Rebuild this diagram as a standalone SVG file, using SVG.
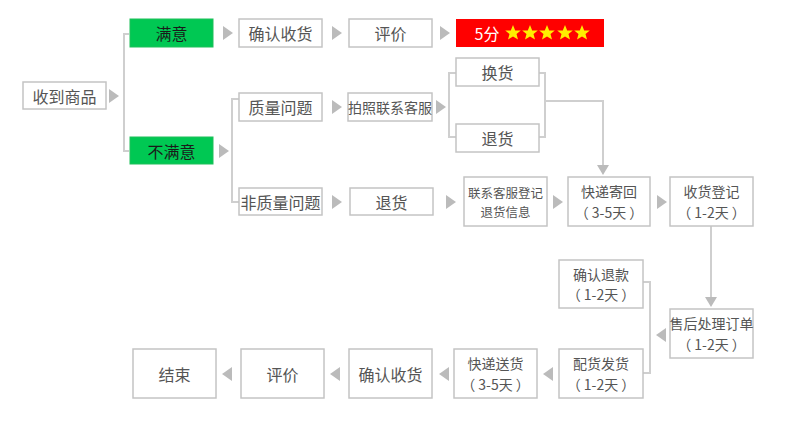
<svg xmlns="http://www.w3.org/2000/svg" xmlns:xlink="http://www.w3.org/1999/xlink" width="790" height="424" viewBox="0 0 790 424">
<style>
.box{fill:#fff;stroke:#c4c4c4;stroke-width:1.5}
.green{fill:#00c853;stroke:#1fbf5a;stroke-width:1}
.red{fill:#ff0000}
.t{font-family:"Noto Sans CJK SC","Noto Sans",sans-serif;font-size:16px;fill:#555;text-anchor:middle;dominant-baseline:central}
.s14{font-size:14px}
.s13{font-size:12.5px}
.tg{fill:#1a1a1a}
.tw{fill:#fff;font-size:16px}
.ln{fill:none;stroke:#cfcfcf;stroke-width:2}
.ar{fill:#bbb}
.star{fill:#ffee00}
</style>
<defs>
<polygon id="ra" points="0,-7 0,7 10,0"/>
<polygon id="la" points="10,-7 10,7 0,0"/>
<polygon id="da" points="-6,0 6,0 0,10"/>
<polygon id="st" points="0,-8 2.2,-2.6 7.8,-2.5 3.5,1.1 5,6.6 0,3.5 -5,6.6 -3.5,1.1 -7.8,-2.5 -2.2,-2.6"/>
</defs>
<rect width="790" height="424" fill="#fff"/>
<g id="connectors">
<path class="ln" d="M129,34 H124 V151 H129"/>
<path class="ln" d="M239,99 H232 V202 H239"/>
<path class="ln" d="M456,73 H449 V137 H456"/>
<path class="ln" d="M539,73 H545 V137 H539 M545,101 H603 V166"/>
<path class="ln" d="M711,226 V298"/>
<path class="ln" d="M643,282 H650 V373 H643"/>
<g class="ar">
<use xlink:href="#ra" x="109" y="96"/>
<use xlink:href="#ra" x="223" y="33"/>
<use xlink:href="#ra" x="332" y="33"/>
<use xlink:href="#ra" x="440" y="33"/>
<use xlink:href="#ra" x="219" y="151"/>
<use xlink:href="#ra" x="332" y="107"/>
<use xlink:href="#ra" x="436" y="107"/>
<use xlink:href="#ra" x="332" y="202"/>
<use xlink:href="#ra" x="446" y="202"/>
<use xlink:href="#ra" x="553" y="202"/>
<use xlink:href="#ra" x="657" y="202"/>
<use xlink:href="#da" x="603" y="165"/>
<use xlink:href="#da" x="711" y="297"/>
<use xlink:href="#la" x="656" y="335"/>
<use xlink:href="#la" x="543" y="374"/>
<use xlink:href="#la" x="439" y="374"/>
<use xlink:href="#la" x="330" y="374"/>
<use xlink:href="#la" x="222" y="374"/>
</g>
</g>
<g id="n-receive"><rect class="box" x="23" y="82" width="83" height="27"/><text class="t" x="64.5" y="95.5">收到商品</text></g>
<g id="n-satisfied"><rect class="green" x="130" y="19" width="83" height="28"/><text class="t tg" x="171.5" y="33">满意</text></g>
<g id="n-unsatisfied"><rect class="green" x="130" y="137" width="83" height="27"/><text class="t tg" x="171.5" y="150.5">不满意</text></g>
<g id="n-confirm1"><rect class="box" x="239" y="19" width="83" height="28"/><text class="t" x="280.5" y="33">确认收货</text></g>
<g id="n-review1"><rect class="box" x="349" y="19" width="83" height="28"/><text class="t" x="390.5" y="33">评价</text></g>
<g id="n-score"><rect class="red" x="456" y="19" width="148" height="28"/><text class="t tw" x="487" y="32.5">5分</text>
<g class="star"><use xlink:href="#st" x="513" y="33"/><use xlink:href="#st" x="530" y="33"/><use xlink:href="#st" x="547" y="33"/><use xlink:href="#st" x="565" y="33"/><use xlink:href="#st" x="582" y="33"/></g></g>
<g id="n-quality"><rect class="box" x="239" y="93" width="83" height="28"/><text class="t" x="280.5" y="107">质量问题</text></g>
<g id="n-photo"><rect class="box" x="348" y="93" width="84" height="28"/><text class="t s14" x="390" y="107">拍照联系客服</text></g>
<g id="n-exchange"><rect class="box" x="456" y="58" width="83" height="28"/><text class="t" x="497.5" y="72">换货</text></g>
<g id="n-return1"><rect class="box" x="456" y="124" width="83" height="28"/><text class="t" x="497.5" y="138">退货</text></g>
<g id="n-nonquality"><rect class="box" x="239" y="188" width="83" height="27"/><text class="t" x="280.5" y="201.5">非质量问题</text></g>
<g id="n-return2"><rect class="box" x="350" y="188" width="83" height="27"/><text class="t" x="391.5" y="201.5">退货</text></g>
<g id="n-register"><rect class="box" x="464" y="177" width="83" height="49"/><text class="t s13" x="505.5" y="192">联系客服登记</text><text class="t s13" x="505.5" y="211">退货信息</text></g>
<g id="n-shipback"><rect class="box" x="568" y="177" width="82" height="49"/><text class="t s14" x="609" y="191.25">快递寄回</text><text class="t s14" x="609" y="211.75">（ 3-5天 ）</text></g>
<g id="n-receivereg"><rect class="box" x="670" y="177" width="83" height="49"/><text class="t s14" x="711.5" y="191.25">收货登记</text><text class="t s14" x="711.5" y="211.75">（ 1-2天 ）</text></g>
<g id="n-aftersale"><rect class="box" x="670" y="309" width="83" height="49"/><text class="t s14" x="711.5" y="323.25">售后处理订单</text><text class="t s14" x="711.5" y="343.75">（ 1-2天 ）</text></g>
<g id="n-refund"><rect class="box" x="559" y="260" width="84" height="48"/><text class="t s14" x="601" y="273.75">确认退款</text><text class="t s14" x="601" y="294.25">（ 1-2天 ）</text></g>
<g id="n-dispatch"><rect class="box" x="559" y="349" width="84" height="49"/><text class="t s14" x="601" y="363.25">配货发货</text><text class="t s14" x="601" y="383.75">（ 1-2天 ）</text></g>
<g id="n-deliver"><rect class="box" x="454" y="349" width="83" height="49"/><text class="t s14" x="495.5" y="363.25">快递送货</text><text class="t s14" x="495.5" y="383.75">（ 3-5天 ）</text></g>
<g id="n-confirm2"><rect class="box" x="349" y="349" width="83" height="49"/><text class="t" x="390.5" y="373.5">确认收货</text></g>
<g id="n-review2"><rect class="box" x="241" y="349" width="83" height="49"/><text class="t" x="282.5" y="373.5">评价</text></g>
<g id="n-end"><rect class="box" x="133" y="349" width="83" height="49"/><text class="t" x="174.5" y="373.5">结束</text></g>
</svg>
